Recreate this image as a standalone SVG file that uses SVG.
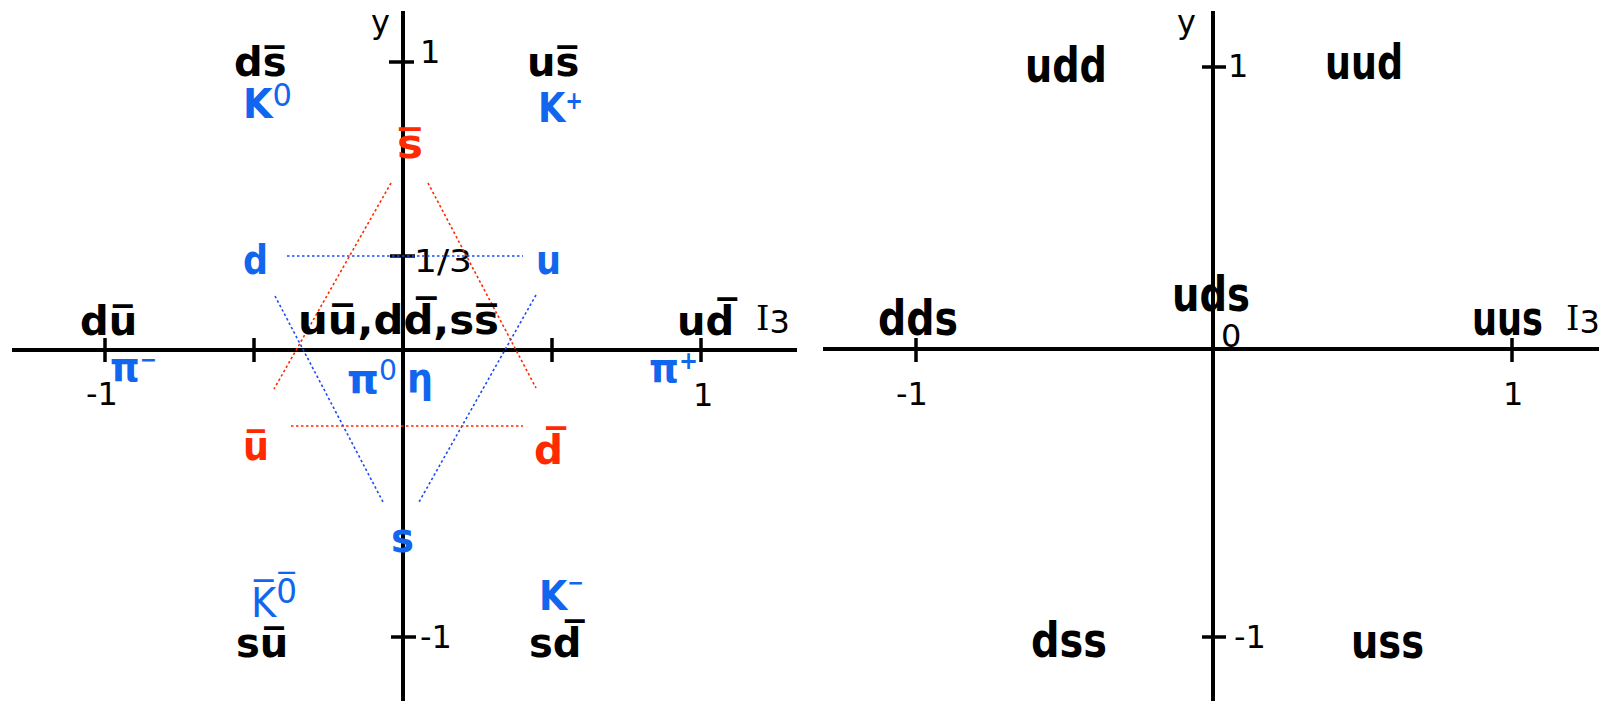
<svg xmlns="http://www.w3.org/2000/svg" width="1599" height="701" viewBox="0 0 1599 701">
<style>
.ax{stroke:#000;stroke-width:4;fill:none}
.tk{stroke:#000;stroke-width:3.5;fill:none}
.num{font-family:"DejaVu Sans",sans-serif;font-size:32px;fill:#000}
.ser{font-family:"DejaVu Serif",serif;font-size:34px;fill:#000}
.lb{font-family:"DejaVu Sans",sans-serif;font-weight:bold;font-size:40px;fill:#000}
.big{font-size:48px}
.bl{fill:#1266ee}
.rd{fill:#ff2a00}
.reg{font-weight:normal}
.dr{stroke:#ff2a00;stroke-width:1.6;stroke-dasharray:2.5 2.5;fill:none}
.db{stroke:#1a4cf5;stroke-width:1.6;stroke-dasharray:2.5 2.5;fill:none}
</style>
<rect width="1599" height="701" fill="#fff"/>

<g id="left-axes">
  <line class="ax" x1="12" y1="350" x2="797" y2="350"/>
  <line class="ax" x1="403" y1="11" x2="403" y2="701"/>
  <line class="tk" x1="105" y1="338" x2="105" y2="362"/>
  <line class="tk" x1="254" y1="338" x2="254" y2="362"/>
  <line class="tk" x1="552" y1="338" x2="552" y2="362"/>
  <line class="tk" x1="701" y1="338" x2="701" y2="362"/>
  <line class="tk" x1="389" y1="62" x2="414" y2="62"/>
  <line class="tk" x1="390" y1="256" x2="415" y2="256"/>
  <line class="tk" x1="391" y1="637" x2="416" y2="637"/>
  <text class="num" x="371" y="33" font-size="34">y</text>
  <text class="num" x="420" y="63">1</text>
  <text class="num" x="414" y="272" textLength="58" lengthAdjust="spacingAndGlyphs">1/3</text>
  <text class="num" x="420" y="648">-1</text>
  <text class="num" x="86" y="405">-1</text>
  <text class="num" x="693" y="406">1</text>
  <text class="ser" x="756" y="330">I<tspan class="num" font-size="22" dy="3">3</tspan></text>
</g>

<g id="connectors">
  <line class="db" x1="287" y1="256" x2="523" y2="256"/>
  <line class="db" x1="275" y1="296" x2="383" y2="502"/>
  <line class="db" x1="536" y1="295" x2="419" y2="502"/>
  <line class="dr" x1="291" y1="426" x2="523" y2="426"/>
  <line class="dr" x1="391" y1="183" x2="274" y2="389"/>
  <line class="dr" x1="428" y1="183" x2="536" y2="388"/>
</g>

<g id="node-ds"><text class="lb" x="234" y="76">ds&#x305;</text><text class="lb bl" x="243" y="118" font-size="46" textLength="49" lengthAdjust="spacingAndGlyphs">K<tspan class="reg" font-size="32" dy="-12">0</tspan></text></g>
<g id="node-us"><text class="lb" x="527" y="76">us&#x305;</text><text class="lb bl" x="538" y="122" font-size="46" textLength="45" lengthAdjust="spacingAndGlyphs">K<tspan font-size="24" dy="-13">+</tspan></text></g>
<g id="node-sbar"><text class="lb rd" x="397" y="158" font-size="44" textLength="26" lengthAdjust="spacingAndGlyphs">s&#x305;</text></g>
<g id="node-d"><text class="lb bl" x="243" y="274" font-size="42" textLength="25" lengthAdjust="spacingAndGlyphs">d</text></g>
<g id="node-u"><text class="lb bl" x="536" y="274" font-size="42" textLength="25" lengthAdjust="spacingAndGlyphs">u</text></g>
<g id="node-du"><text class="lb" x="80" y="335">du&#x305;</text><text class="lb bl" x="110" y="381" font-size="42" textLength="47" lengthAdjust="spacingAndGlyphs">π<tspan font-size="22" dy="-14">−</tspan></text></g>
<g id="node-center"><text class="lb" x="298" y="334" textLength="201" lengthAdjust="spacingAndGlyphs">uu&#x305;,dd&#x305;,ss&#x305;</text><text class="lb bl" x="347" y="393" font-size="42" textLength="50" lengthAdjust="spacingAndGlyphs">π<tspan class="reg" font-size="28" dy="-13">0</tspan></text><text class="lb bl" x="407" y="392" font-size="42" textLength="26" lengthAdjust="spacingAndGlyphs">η</text></g>
<g id="node-ud"><text class="lb" x="677" y="335">ud&#x305;</text><text class="lb bl" x="649" y="382" font-size="42" textLength="49" lengthAdjust="spacingAndGlyphs">π<tspan font-size="24" dy="-13">+</tspan></text></g>
<g id="node-ubar"><text class="lb rd" x="243" y="460" font-size="42" textLength="26" lengthAdjust="spacingAndGlyphs">u&#x305;</text></g>
<g id="node-dbar"><text class="lb rd" x="534" y="464" font-size="44" textLength="29" lengthAdjust="spacingAndGlyphs">d&#x305;</text></g>
<g id="node-s"><text class="lb bl" x="391" y="552" font-size="42" textLength="23" lengthAdjust="spacingAndGlyphs">s</text></g>
<g id="node-su"><text class="lb bl reg" x="251" y="617" font-size="52" textLength="46" lengthAdjust="spacingAndGlyphs">K&#x305;<tspan font-size="34" dy="-14">0&#x305;</tspan></text><text class="lb" x="236" y="657">su&#x305;</text></g>
<g id="node-sd"><text class="lb bl" x="539" y="610" font-size="48" textLength="45" lengthAdjust="spacingAndGlyphs">K<tspan font-size="22" dy="-20">−</tspan></text><text class="lb" x="529" y="657">sd&#x305;</text></g>

<g id="right-axes">
  <line class="ax" x1="823" y1="349" x2="1599" y2="349"/>
  <line class="ax" x1="1213" y1="11" x2="1213" y2="701"/>
  <line class="tk" x1="916" y1="338" x2="916" y2="362"/>
  <line class="tk" x1="1512" y1="338" x2="1512" y2="362"/>
  <line class="tk" x1="1202" y1="67" x2="1226" y2="67"/>
  <line class="tk" x1="1202" y1="637" x2="1226" y2="637"/>
  <text class="num" x="1177" y="33" font-size="34">y</text>
  <text class="num" x="1228" y="77" font-size="28">1</text>
  <text class="num" x="1221" y="347">0</text>
  <text class="num" x="896" y="405">-1</text>
  <text class="num" x="1503" y="405">1</text>
  <text class="num" x="1234" y="648">-1</text>
  <text class="ser" x="1566" y="330">I<tspan class="num" font-size="22" dy="3">3</tspan></text>
</g>

<g id="node-udd"><text class="lb big" x="1025" y="82" textLength="82" lengthAdjust="spacingAndGlyphs">udd</text></g>
<g id="node-uud"><text class="lb big" x="1325" y="79" textLength="78" lengthAdjust="spacingAndGlyphs">uud</text></g>
<g id="node-uds"><text class="lb big" x="1172" y="311" textLength="78" lengthAdjust="spacingAndGlyphs">uds</text></g>
<g id="node-dds"><text class="lb big" x="878" y="335" textLength="80" lengthAdjust="spacingAndGlyphs">dds</text></g>
<g id="node-uus"><text class="lb big" x="1472" y="335" textLength="71" lengthAdjust="spacingAndGlyphs">uus</text></g>
<g id="node-dss"><text class="lb big" x="1031" y="657" textLength="76" lengthAdjust="spacingAndGlyphs">dss</text></g>
<g id="node-uss"><text class="lb big" x="1351" y="658" textLength="73" lengthAdjust="spacingAndGlyphs">uss</text></g>
</svg>
